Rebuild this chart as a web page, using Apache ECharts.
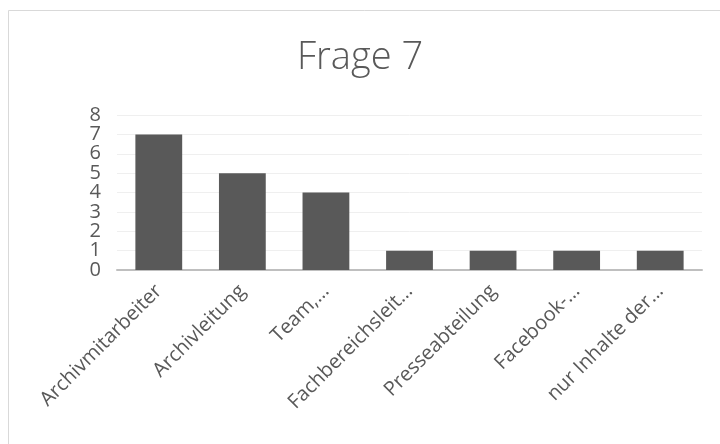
<!DOCTYPE html>
<html>
<head>
<meta charset="utf-8">
<script src="https://cdn.jsdelivr.net/npm/echarts@6/dist/echarts.min.js"></script>
<style>
  html, body { margin: 0; padding: 0; background: #fff; }
  #chart { width: 720px; height: 444px; }
</style>
</head>
<body>
<div id="chart"></div>
<script>
const categories = [
  'Archivmitarbeiter',
  'Archivleitung',
  'Team,…',
  'Fachbereichsleit…',
  'Presseabteilung',
  'Facebook-…',
  'nur Inhalte der…'
];
const values = [7, 5, 4, 1, 1, 1, 1];
const yMin = 0;
const yMax = 8;

const textColor = '#595959';
const chart = echarts.init(document.getElementById('chart'));

// labels are packed tightly, so even and odd ticks go on two stacked axes
// (otherwise echarts hides the ones next to min/max)
const makeYAxis = (even) => ({
  type: 'value',
  position: 'left',
  min: yMin,
  max: yMax,
  interval: 1,
  axisLine: { show: false },
  axisTick: { show: false },
  axisLabel: {
    color: textColor,
    fontFamily: 'Open Sans',
    fontSize: 20,
    margin: 16,
    showMinLabel: true,
    showMaxLabel: true,
    formatter: (v) => ((v % 2 === 0) === even ? String(v) : '')
  },
  splitLine: even
    ? { lineStyle: { color: '#efefef', width: 1 } }
    : { show: false }
});

chart.setOption({
  animation: false,
  backgroundColor: '#fff',
  graphic: [{
    type: 'rect',
    shape: { x: 8.5, y: 10.5, width: 740, height: 470 },
    style: { fill: 'none', stroke: '#d9d9d9', lineWidth: 1 },
    silent: true
  }],
  title: {
    text: 'Frage 7',
    left: 'center',
    top: 34,
    textStyle: {
      color: textColor,
      fontFamily: 'Open Sans',
      fontWeight: 300,
      fontSize: 38
    }
  },
  grid: {
    left: 117,
    right: 18,
    top: 115,
    bottom: 174,
    containLabel: false
  },
  xAxis: {
    type: 'category',
    data: categories,
    axisLine: { lineStyle: { color: '#bfbfbf', width: 2 } },
    axisTick: { show: false },
    axisLabel: {
      rotate: 45,
      interval: 0,
      margin: 18,
      color: textColor,
      fontFamily: 'Open Sans',
      fontSize: 20
    }
  },
  yAxis: [makeYAxis(true), makeYAxis(false)],
  series: [{
    type: 'bar',
    yAxisIndex: 0,
    data: values,
    barWidth: '56%',
    itemStyle: { color: '#595959' }
  }]
});
</script>
</body>
</html>
